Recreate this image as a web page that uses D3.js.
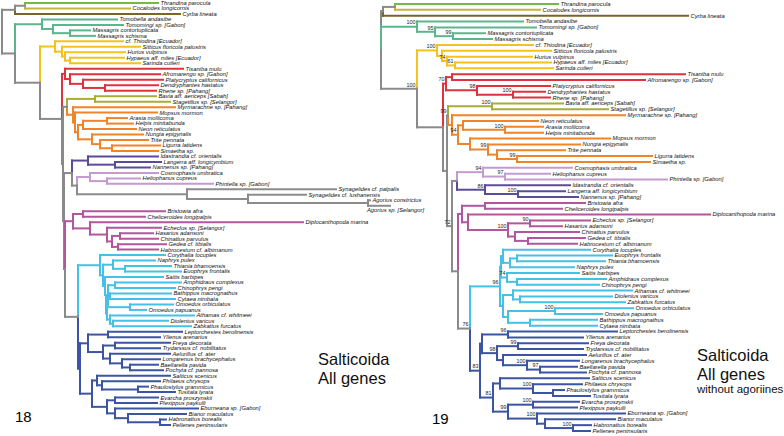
<!DOCTYPE html>
<html><head><meta charset="utf-8">
<script src="https://cdn.jsdelivr.net/npm/d3@7"></script>
<style>body{margin:0;background:#fff}svg{display:block}</style>
</head><body><svg id="c" width="784" height="436"></svg>
<script>
// Tree 18 (all genes): tip depth / node depth after ":" (horizontal units), support before ":"
const tree18 = `(
((Thrandina parocula:158,Cocalodes longicornis:130):25,Cyrba lineata:180):15,
((Tomobella andasibe:117,(Tomomingi sp. [Gabon]:123,(Massagris contortuplicata:90,Massagris schisma:95):70):53):42,
((cf. Thiodina [Ecuador]:123,(Sitticus floricola palustris:140,(Hurius vulpinus:125,(Hypaeus aff. miles [Ecuador]:124,Sarinda cutleri:140):70):65):62):55,
((Tisaniba mulu:183,(Afromarengo sp. [Gabon]:160,(Platycryptus californicus:163,(Dendryphantes hastatus:158,Rhene sp. [Pahang]:156):105):83):70):65,
(((Bavia aff. aericeps [Sabah]:156,Stagetillus sp. [Selangor]:170):95,
(Myrmarachne sp. [Pahang]:175,(Mopsus mormon:157,(((Arasia mollicoma:127,Helpis minitabunda:133):107,Neon reticulatus:136):83,(Nungia epigynalis:143,(Trite pennata:148,(Ligurra latidens:160,Simaetha sp.:158):112):100):92):78):75):73):67,
(((Idastrandia cf. orientalis:158,(Langerra aff. longicymbium:161,Nannenus sp. [Pahang]:150):115):88,
((Cosmophasis umbratica:158,(Heliophanus cupreus:140,Phintella sp. [Gabon]:213):107):90,
(Synagelides cf. palpalis:336,(Synagelides cf. lushanensis:306,(Agorius constrictus:370,Agorius sp. [Selangor]:390):368):248):187):77):72,
(((Bristowia afra:165,Cheliceroides longipalpis:145):83,(Diplocanthopoda marina:303,(Echeclus sp. [Selangor]:161,((Hasarius adansoni:153,Chinattus parvulus:158):120,(Gedea cf. tibialis:166,Habrocestum cf. albimanum:158):118):112):107):90):73,
((Corythalia locuples:165,((Naphrys pulex:155,(Thiania bhamoensis:171,Euophrys frontalis:181):125):113,(Saitis barbipes:163,((Amphidraus complexus:181,Chinophrys pengi:175):115,((Bathippus macrognathus:171,Cytaea nimbata:175):110,((Omoedus orbiculatus:173,Omoedus papuanus:146):130,(Athamas cf. whitmeei:194,(Diolenius varicus:168,Zabkattus furcatus:191):113):110):107):106):108):105):103):100,
(((Leptorchestes berolinensis:182,Yllenus arenarius:160):108,((Freya decorata:170,Trydarssus cf. nobilitatus:160):115,(Aelurillus cf. ater:170,(Longarenus brachycephalus:160,(Baellarella pavida:158,Pochyta cf. pannosa:163):130):122):110):103):88,((Salticus scenicus:170,(Philaeus chrysops:160,(Phaulostylus grammicus:148,Tusitala lyrata:175):138):102):97,((Evarcha proszynskii:158,Plexippus paykulli:157):115,(Eburneana sp. [Gabon]:198,(Bianor maculatus:186,(Habronattus borealis:166,Pellenes peninsularis:170):160):128):115):107):92):80):78):65):64):63):62):40):15):2`;

// Tree 19 (all genes without agoriines)
const tree19 = `(
((Thrandina parocula:178,Cocalodes longicornis:160):15,Cyrba lineata:308):3,
(Tomobella andasibe:143,(Tomomingi sp. [Gabon]:156,(Massagris contortuplicata:105,Massagris schisma:112)99:73)95:55)100:37,
((cf. Thiodina [Ecuador]:153,(Sitticus floricola palustris:171,(Hurius vulpinus:152,(Hypaeus aff. miles [Ecuador]:171,Sarinda cutleri:173)61:75)74:67):62)100:57,
(((Tisaniba mulu:305,Afromarengo sp. [Gabon]:265):72,(Platycryptus californicus:170,(Dendryphantes hastatus:165,Rhene sp. [Pahang]:170)100:133)98:97)70:66,
(((Bavia aff. aericeps [Sabah]:183,Stagetillus sp. [Selangor]:228)100:112,
(Myrmarachne sp. [Pahang]:245,((Neon reticulatus:158,(Arasia mollicoma:163,Helpis minitabunda:163)100:125):83,(Mopsus mormon:230,(Nungia epigynalis:200,(Trite pennata:185,(Ligurra latidens:272,Simaetha sp.:270)99:137):117)99:108):90)94:78):72)99:68,
(((Cosmophasis umbratica:192,(Heliophanus cupreus:170,Phintella sp. [Gabon]:287)97:125)94:103,(Idastrandia cf. orientalis:190,(Langerra aff. longicymbium:185,Nannenus sp. [Pahang]:198)100:138)86:105):77,
(((Bristowia afra:205,Cheliceroides longipalpis:182):105,(Diplocanthopoda marina:330,((Echeclus sp. [Selangor]:210,Hasarius adansoni:182)90:150,(Chinattus parvulus:199,(Gedea cf. tibialis:205,Habrocestum cf. albimanum:197):148):135)100:128):88):82,
((((Corythalia locuples:210,((Euophrys frontalis:232,Thiania bhamoensis:225):137,Naphrys pulex:194):130):123,(Saitis barbipes:199,(Amphidraus complexus:226,Chinophrys pengi:219):137)74:127):121,((Athamas cf. whitmeei:252,(Diolenius varicus:232,Zabkattus furcatus:245):140):133,((Omoedus orbiculatus:253,Omoedus papuanus:222)100:175,(Bathippus macrognathus:217,Cytaea nimbata:217):150):128):123)96:120,
(((Leptorchestes berolinensis:237,Yllenus arenarius:203)96:128,((Freya decorata:208,Trydarssus cf. nobilitatus:203)99:138,(Aelurillus cf. ater:206,(Longarenus brachycephalus:199,(Baellarella pavida:197,Pochyta cf. pannosa:206)97:160)100:147):123)98:117):102,((Salticus scenicus:209,(Philaeus chrysops:202,(Phaulostylus grammicus:184,Tusitala lyrata:210):173)100:153):120,((Evarcha proszynskii:199,Plexippus paykulli:197)100:153,(Eburneana sp. [Gabon]:245,(Bianor maculatus:235,(Habronattus borealis:211,Pellenes peninsularis:210)100:193):165)100:157)99:128)81:113)83:100)76:90):78)72:72):67):63)100:37):1`;

// clade groups -> colour
const groupNames = ["thr","coc","cyr","ast","yel","red","oli","ora","pur","lil","ago","mag","cya","blu"];
const groupColors = ["#74b94a","#c9b23a","#7a6428","#5bb68e","#f4c21c","#e0323c","#a8ad38","#f0842a","#5c4a9a","#c49bd0","#8c8c8c","#b2569e","#45c0e6","#3b54a4"];
const groupMembers = [
 ["Thrandina parocula"],["Cocalodes longicornis"],["Cyrba lineata"],
 ["Tomobella andasibe","Tomomingi sp. [Gabon]","Massagris contortuplicata","Massagris schisma"],
 ["cf. Thiodina [Ecuador]","Sitticus floricola palustris","Hurius vulpinus","Hypaeus aff. miles [Ecuador]","Sarinda cutleri"],
 ["Tisaniba mulu","Afromarengo sp. [Gabon]","Platycryptus californicus","Dendryphantes hastatus","Rhene sp. [Pahang]"],
 ["Bavia aff. aericeps [Sabah]","Stagetillus sp. [Selangor]"],
 ["Myrmarachne sp. [Pahang]","Mopsus mormon","Arasia mollicoma","Helpis minitabunda","Neon reticulatus","Nungia epigynalis","Trite pennata","Ligurra latidens","Simaetha sp."],
 ["Idastrandia cf. orientalis","Langerra aff. longicymbium","Nannenus sp. [Pahang]"],
 ["Cosmophasis umbratica","Heliophanus cupreus","Phintella sp. [Gabon]"],
 ["Synagelides cf. palpalis","Synagelides cf. lushanensis","Agorius constrictus","Agorius sp. [Selangor]"],
 ["Bristowia afra","Cheliceroides longipalpis","Diplocanthopoda marina","Echeclus sp. [Selangor]","Hasarius adansoni","Chinattus parvulus","Gedea cf. tibialis","Habrocestum cf. albimanum"],
 ["Corythalia locuples","Naphrys pulex","Thiania bhamoensis","Euophrys frontalis","Saitis barbipes","Amphidraus complexus","Chinophrys pengi","Bathippus macrognathus","Cytaea nimbata","Omoedus orbiculatus","Omoedus papuanus","Athamas cf. whitmeei","Diolenius varicus","Zabkattus furcatus"],
 ["Leptorchestes berolinensis","Yllenus arenarius","Freya decorata","Trydarssus cf. nobilitatus","Aelurillus cf. ater","Longarenus brachycephalus","Baellarella pavida","Pochyta cf. pannosa","Salticus scenicus","Philaeus chrysops","Phaulostylus grammicus","Tusitala lyrata","Evarcha proszynskii","Plexippus paykulli","Eburneana sp. [Gabon]","Bianor maculatus","Habronattus borealis","Pellenes peninsularis"]
];
// tip labels placed below their branch in the original figure
const movedLabels18 = ["Agorius sp. [Selangor]"];
const backboneColor = "#8a8a8a";
const panelNumbers = ["18","19"];
const titleLines18 = ["Salticoida","All genes"];
const titleLines19 = ["Salticoida","All genes","without agoriines"];

function parseTree(str){
  const s = str.replace(/\s*\n\s*/g,"");
  let i = 0;
  function node(){
    const n = {children:[]};
    if (s[i] === "("){
      i++;
      n.children.push(node());
      while (s[i] === ","){ i++; n.children.push(node()); }
      i++;
      let lab = "";
      while (s[i] !== ":") lab += s[i++];
      n.support = lab.trim();
    } else {
      let nm = "";
      while (s[i] !== ":") nm += s[i++];
      n.name = nm.trim();
    }
    i++;
    let num = "";
    while (i < s.length && /[0-9.]/.test(s[i])) num += s[i++];
    n.depth = +num;
    if (!n.children.length) delete n.children;
    return n;
  }
  return node();
}

const colorOf = {};
groupMembers.forEach((m,gi)=>m.forEach(t=>colorOf[t]=groupColors[gi]));

const svg = d3.select("#c");
const FONT = "Liberation Sans, Arial, sans-serif";

function drawTree(str, cfg){
  const root = d3.hierarchy(parseTree(str));
  const leaves = root.leaves();
  const x = d3.scaleLinear().domain([0,100]).range([cfg.x0, cfg.x0+100]);
  const y = d3.scaleLinear().domain([0, leaves.length-1]).range([cfg.y0, cfg.y1]);
  leaves.forEach((l,i)=>{ l.py = y(i); });
  root.eachAfter(n=>{
    n.px = x(n.data.depth);
    if (n.children){
      n.py = (n.children[0].py + n.children[n.children.length-1].py)/2;
      const cs = new Set(n.children.map(c=>c.col));
      n.col = cs.size===1 ? [...cs][0] : backboneColor;
    } else n.col = colorOf[n.data.name] || backboneColor;
  });
  const g = svg.append("g");
  const links = root.descendants().filter(n=>n.parent);
  g.selectAll("line.v").data(links).join("line")
    .attr("x1",d=>d.parent.px).attr("x2",d=>d.parent.px)
    .attr("y1",d=>d.parent.py).attr("y2",d=>d.py)
    .attr("stroke",d=>d.col).attr("stroke-width",2).attr("stroke-linecap","square");
  g.selectAll("line.h").data(links).join("line")
    .attr("x1",d=>d.parent.px).attr("x2",d=>d.px)
    .attr("y1",d=>d.py).attr("y2",d=>d.py)
    .attr("stroke",d=>d.col).attr("stroke-width",2).attr("stroke-linecap","square");
  const moved = cfg.moved || [];
  g.selectAll("text.tip").data(leaves).join("text")
    .attr("x",d=>moved.includes(d.data.name) ? d.parent.px - 1 : d.px+2.5)
    .attr("y",d=>moved.includes(d.data.name) ? d.py + 4.5 : d.py).attr("dy","0.33em")
    .attr("font-family",FONT).attr("font-style","italic")
    .attr("font-size",5.8).attr("fill","#111").text(d=>d.data.name);
  const sup = root.descendants().filter(n=>n.children && n.data.support);
  g.selectAll("text.sup").data(sup).join("text")
    .attr("x",d=>d.px-1.5).attr("y",d=>d.py-2.2).attr("text-anchor","end")
    .attr("font-family",FONT)
    .attr("font-size",5.4).attr("fill","#222").text(d=>d.data.support);
}

drawTree(tree18, {x0:0, y0:3, y1:425, moved:movedLabels18});
drawTree(tree19, {x0:380, y0:4, y1:431});

svg.append("text").attr("x",15).attr("y",422).attr("font-family",FONT).attr("font-size",15).text(panelNumbers[0]);
svg.append("text").attr("x",432).attr("y",424).attr("font-family",FONT).attr("font-size",15).text(panelNumbers[1]);
const t18 = svg.append("text").attr("font-family",FONT).attr("fill","#111");
titleLines18.forEach((t,i)=>t18.append("tspan").attr("x",318).attr("y",365+i*19).attr("font-size",16.5).text(t));
const t19 = svg.append("text").attr("font-family",FONT).attr("fill","#111");
titleLines19.forEach((t,i)=>t19.append("tspan").attr("x",697).attr("y",[361,380,393][i]).attr("font-size",i<2?16.5:11.5).text(t));
</script></body></html>
